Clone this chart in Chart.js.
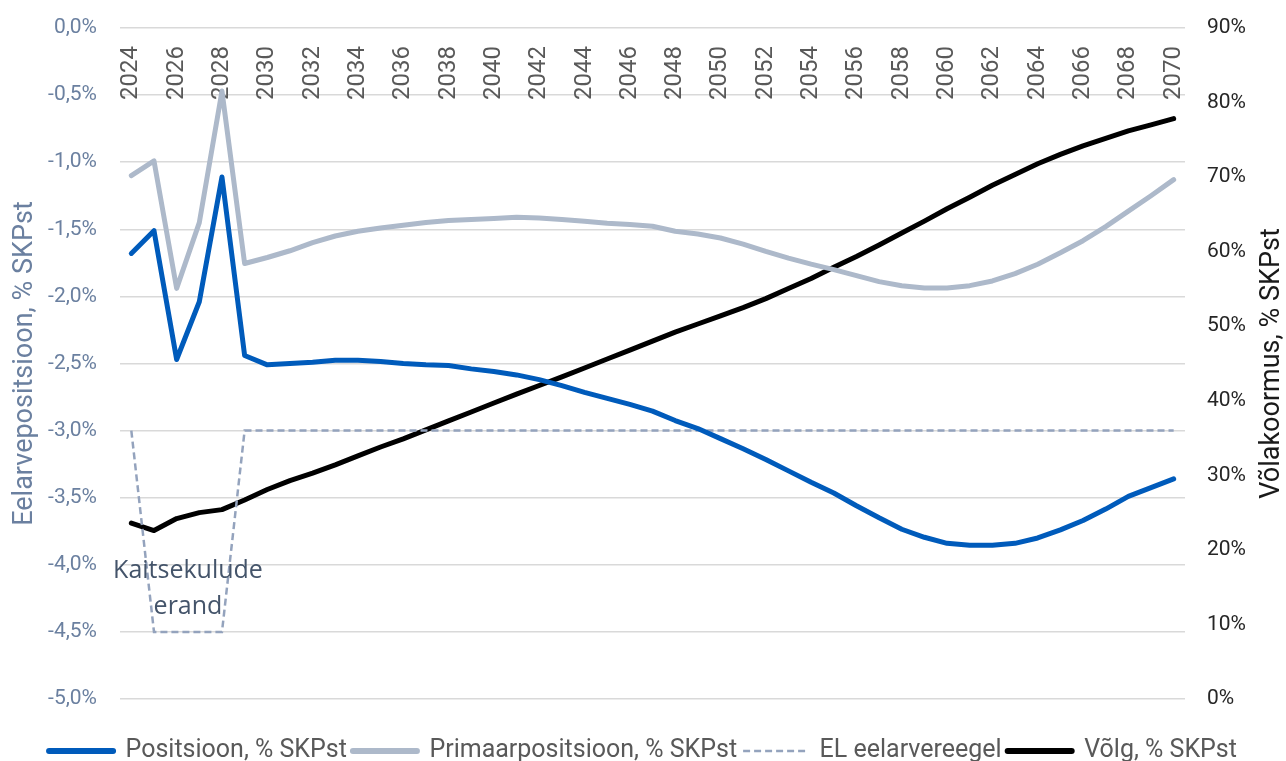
<!DOCTYPE html>
<html>
<head>
<meta charset="utf-8">
<script src="https://cdn.jsdelivr.net/npm/chart.js@4.4.1/dist/chart.umd.min.js"></script>
<style>
  html, body { margin: 0; padding: 0; background: #ffffff; }
  #wrap { width: 1286px; height: 761px; position: relative; }
</style>
</head>
<body>
<div id="wrap"><canvas id="chart"></canvas></div>
<script>
// Years on the category axis
const years = [];
for (let y = 2024; y <= 2070; y++) years.push(String(y));

// Eelarvepositsioon, % SKPst (left axis)
const positsioon = [
  -1.68, -1.51, -2.47, -2.04, -1.11, -2.44, -2.51, -2.50, -2.49, -2.475,
  -2.475, -2.485, -2.50, -2.51, -2.515, -2.54, -2.56, -2.585, -2.62, -2.665,
  -2.715, -2.76, -2.805, -2.855, -2.925, -2.985, -3.06, -3.135, -3.215, -3.30,
  -3.385, -3.465, -3.56, -3.65, -3.735, -3.795, -3.84, -3.855, -3.855, -3.84,
  -3.80, -3.74, -3.67, -3.585, -3.49, -3.425, -3.36
];

// Primaarpositsioon, % SKPst (left axis)
const primaar = [
  -1.10, -0.99, -1.94, -1.45, -0.47, -1.755, -1.71, -1.66, -1.60, -1.55,
  -1.515, -1.49, -1.47, -1.45, -1.435, -1.427, -1.42, -1.41, -1.415, -1.427,
  -1.44, -1.455, -1.465, -1.477, -1.515, -1.535, -1.565, -1.61, -1.665, -1.715,
  -1.76, -1.80, -1.845, -1.89, -1.92, -1.938, -1.938, -1.92, -1.885, -1.83,
  -1.76, -1.675, -1.585, -1.48, -1.365, -1.25, -1.13
];

// EL eelarvereegel (left axis), with the defence spending exception 2025-2028
const elReegel = [
  -3.0, -4.5, -4.5, -4.5, -4.5, -3.0, -3.0, -3.0, -3.0, -3.0,
  -3.0, -3.0, -3.0, -3.0, -3.0, -3.0, -3.0, -3.0, -3.0, -3.0,
  -3.0, -3.0, -3.0, -3.0, -3.0, -3.0, -3.0, -3.0, -3.0, -3.0,
  -3.0, -3.0, -3.0, -3.0, -3.0, -3.0, -3.0, -3.0, -3.0, -3.0,
  -3.0, -3.0, -3.0, -3.0, -3.0, -3.0, -3.0
];

// Võlg, % SKPst (right axis)
const volg = [
  23.6, 22.6, 24.2, 25.0, 25.4, 26.7, 28.1, 29.3, 30.3, 31.4,
  32.6, 33.8, 34.9, 36.1, 37.3, 38.5, 39.7, 40.9, 42.05, 43.2,
  44.4, 45.6, 46.8, 48.0, 49.2, 50.3, 51.4, 52.5, 53.7, 55.05,
  56.4, 57.9, 59.35, 60.9, 62.5, 64.1, 65.75, 67.3, 68.9, 70.35,
  71.8, 73.05, 74.2, 75.2, 76.2, 77.0, 77.85
];

const leftTitle = 'Eelarvepositsioon, % SKPst';
const rightTitle = 'Võlakoormus, % SKPst';
const noteLines = ['Kaitsekulude', 'erand'];

const leftColor = '#6B80A0';

// Rotated right axis title, reading bottom to top like the left one
const rightTitlePlugin = {
  id: 'rightTitle',
  afterDraw(chart) {
    const { ctx, chartArea } = chart;
    const x = chart.scales.y2.right - 14;
    ctx.save();
    ctx.translate(x, (chartArea.top + chartArea.bottom) / 2);
    ctx.rotate(-Math.PI / 2);
    ctx.font = '27px Roboto';
    ctx.fillStyle = '#1a1a1a';
    ctx.textAlign = 'center';
    ctx.textBaseline = 'middle';
    ctx.fillText(rightTitle, 0, 0);
    ctx.restore();
  }
};

// "Kaitsekulude erand" note inside the dip of the EU rule line
const notePlugin = {
  id: 'note',
  afterDatasetsDraw(chart) {
    const { ctx } = chart;
    const xs = chart.scales.x;
    const ys = chart.scales.y;
    const x = (xs.getPixelForValue(2) + xs.getPixelForValue(3)) / 2;
    const y = ys.getPixelForValue(-4.1);
    ctx.save();
    ctx.font = '25px "Open Sans"';
    ctx.fillStyle = '#44546A';
    ctx.textAlign = 'center';
    ctx.textBaseline = 'alphabetic';
    noteLines.forEach((t, i) => ctx.fillText(t, x, y + i * 36));
    ctx.restore();
  }
};

new Chart(document.getElementById('chart'), {
  type: 'line',
  data: {
    labels: years,
    datasets: [
      {
        label: 'Positsioon, % SKPst',
        data: positsioon,
        yAxisID: 'y',
        borderColor: '#005BBB',
        backgroundColor: '#005BBB',
        borderWidth: 5,
        borderCapStyle: 'round',
        borderJoinStyle: 'round',
      },
      {
        label: 'Primaarpositsioon, % SKPst',
        data: primaar,
        yAxisID: 'y',
        borderColor: '#ADB9CA',
        backgroundColor: '#ADB9CA',
        borderWidth: 5,
        borderCapStyle: 'round',
        borderJoinStyle: 'round',
      },
      {
        label: 'EL eelarvereegel',
        data: elReegel,
        yAxisID: 'y',
        borderColor: '#94A3BD',
        backgroundColor: '#94A3BD',
        borderWidth: 2.5,
        borderDash: [7, 4],
      },
      {
        label: 'Võlg, % SKPst',
        data: volg,
        yAxisID: 'y2',
        borderColor: '#000000',
        backgroundColor: '#000000',
        borderWidth: 5,
        borderCapStyle: 'round',
        borderJoinStyle: 'round',
      },
    ],
  },
  options: {
    responsive: true,
    maintainAspectRatio: false,
    animation: false,
    devicePixelRatio: 1,
    layout: { padding: { top: 0, left: 0, right: 0, bottom: -12.5 } },
    elements: { point: { radius: 0, hoverRadius: 0 }, line: { tension: 0 } },
    plugins: {
      tooltip: { enabled: false },
      legend: {
        position: 'bottom',
        title: { display: true, text: '', font: { size: 10 }, padding: { top: 21.5, bottom: 0 } },
        labels: {
          usePointStyle: true,
          pointStyle: 'line',
          pointStyleWidth: 64,
          padding: 6,
          color: '#595959',
          font: { family: 'Roboto', size: 25 },
          generateLabels(chart) {
            const items = Chart.defaults.plugins.legend.labels.generateLabels(chart);
            items.forEach((it) => {
              const ds = chart.data.datasets[it.datasetIndex];
              it.strokeStyle = ds.borderColor;
              it.lineDash = ds.borderDash || [];
              it.lineCap = ds.borderDash ? 'butt' : 'round';
              it.lineWidth = ds.borderDash ? 2.5 : 6;
            });
            return items;
          },
        },
      },
    },
    scales: {
      x: {
        type: 'category',
        position: 'top',
        offset: true,
        grid: { display: false },
        border: { display: false },
        afterFit(scale) { scale.height = 28; },
        ticks: {
          autoSkip: false,
          minRotation: 90,
          maxRotation: 90,
          mirror: true,
          padding: 72,
          color: '#595959',
          font: { family: 'Roboto', size: 24 },
          callback(value, index) {
            return index % 2 === 0 ? this.getLabelForValue(value) : '';
          },
        },
      },
      y: {
        position: 'left',
        min: -5,
        max: 0,
        afterFit(scale) { scale.width = 120; },
        grid: { color: '#D9D9D9', lineWidth: 1.5, drawTicks: true, tickLength: 23, tickColor: 'rgba(0,0,0,0)' },
        border: { display: false },
        title: {
          display: true,
          text: leftTitle,
          color: leftColor,
          font: { family: 'Roboto', size: 27 },
          padding: { top: 9, bottom: 0 },
        },
        ticks: {
          stepSize: 0.5,
          padding: 0,
          color: leftColor,
          font: { family: 'Roboto', size: 21 },
          callback: (v) => v.toFixed(1).replace('.', ',') + '%',
        },
      },
      y2: {
        position: 'right',
        min: 0,
        max: 90,
        afterFit(scale) { scale.width = 101; },
        grid: { drawOnChartArea: false, drawTicks: true, tickLength: 22, tickColor: 'rgba(0,0,0,0)' },
        border: { display: false },
        ticks: {
          stepSize: 10,
          padding: 0,
          color: '#262626',
          font: { family: 'Roboto', size: 21 },
          callback: (v) => v + '%',
        },
      },
    },
  },
  plugins: [notePlugin, rightTitlePlugin],
});
</script>
</body>
</html>
